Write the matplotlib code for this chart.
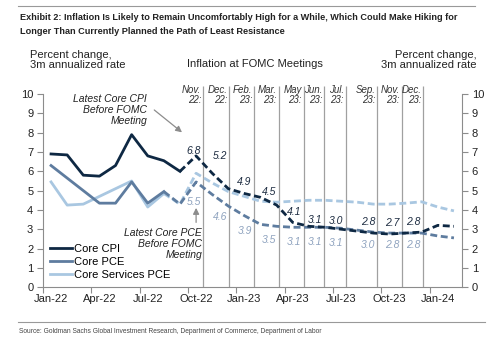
import numpy as np
import matplotlib
matplotlib.use("Agg")
import matplotlib.pyplot as plt
from matplotlib.lines import Line2D

plt.rcParams['font.family'] = ['Liberation Sans', 'DejaVu Sans']

# months counted from Jan-22 (0) to Feb-24 (25)
tick_labels = ["Jan-22", "Apr-22", "Jul-22", "Oct-22", "Jan-23",
               "Apr-23", "Jul-23", "Oct-23", "Jan-24"]

# realised data (solid)
cpi_solid = [6.9, 6.85, 5.8, 5.75, 6.3, 7.9, 6.8, 6.55, 6.0]
pce_solid = [6.3, 5.65, 5.0, 4.35, 4.35, 5.45, 4.35, 4.95]
svc_solid = [5.45, 4.25, 4.3, 4.7, 5.1, 5.5, 4.15, 4.85]

# latest reading before each meeting (dashed)
cpi_dash = [6.0, 6.8, 5.9, 5.1, 4.85, 4.65, 4.25, 3.35, 3.15, 3.1, 3.0,
            2.9, 2.8, 2.75, 2.8, 2.85, 3.2, 3.15]
pce_dash = [4.95, 4.3, 5.45, 4.8, 4.2, 3.7, 3.25, 3.15, 3.1, 3.1, 3.1,
            3.05, 2.95, 2.85, 2.8, 2.8, 2.8, 2.65, 2.55]
svc_dash = [4.85, 4.3, 5.9, 5.4, 4.95, 4.7, 4.45, 4.4, 4.45, 4.5, 4.5,
            4.45, 4.4, 4.3, 4.3, 4.35, 4.42, 4.15, 3.95]

# FOMC meetings (position in months) and readings shown
meetings = [9.44, 11.06, 12.6, 14.13, 15.68, 16.96, 18.29, 20.25, 21.77, 23.1]
meeting_labels = ["Nov.\n22:", "Dec.\n22:", "Feb.\n23:", "Mar.\n23:", "May\n23:",
                  "Jun.\n23:", "Jul.\n23:", "Sep.\n23:", "Nov.\n23:", "Dec.\n23:"]
cpi_at_meeting = ["6.8", "5.2", "4.9", "4.5", "4.1", "3.1", "3.0", "2.8", "2.7", "2.8"]
pce_at_meeting = ["5.5", "4.6", "3.9", "3.5", "3.1", "3.1", "3.1", "3.0", "2.8", "2.8"]
cpi_label_y = [7.06, 6.8, 5.46, 4.94, 3.9, 3.5, 3.45, 3.37, 3.32, 3.37]
pce_label_y = [4.42, 3.64, 2.92, 2.44, 2.35, 2.35, 2.3, 2.18, 2.18, 2.18]

c_cpi = "#0e2843"
c_pce = "#5e7c9f"
c_svc = "#a9c7e1"
c_pce_lab = "#8fa3bf"
grey = "#8c8c8c"

fig = plt.figure(figsize=(5, 3.43), dpi=100)
ax = fig.add_axes([0.086, 0.163, 0.838, 0.585])

ax.vlines(meetings, 0, 10.4, color="#a0a0a0", lw=0.9, zorder=1)

x_cs = np.arange(len(cpi_solid))
x_ps = np.arange(len(pce_solid))
x_cd = np.arange(len(cpi_dash)) + 8
x_pd = np.arange(len(pce_dash)) + 7

ax.plot(x_ps, svc_solid, color=c_svc, lw=2, label="Core Services PCE", zorder=3)
ax.plot(x_ps, pce_solid, color=c_pce, lw=2, label="Core PCE", zorder=4)
ax.plot(x_cs, cpi_solid, color=c_cpi, lw=2, label="Core CPI", zorder=5)
ax.plot(x_pd, svc_dash, color=c_svc, lw=2, dashes=(2.5, 1.3), zorder=3)
ax.plot(x_pd, pce_dash, color=c_pce, lw=2, dashes=(2.5, 1.3), zorder=4)
ax.plot(x_cd, cpi_dash, color=c_cpi, lw=2, dashes=(2.5, 1.3), zorder=5)

for xm, lab, cv, cy, pv, py in zip(meetings, meeting_labels, cpi_at_meeting,
                                   cpi_label_y, pce_at_meeting, pce_label_y):
    ax.text(xm - 0.12, 10.5, lab, ha="right", va="top", multialignment="right",
            fontsize=7, style="italic", color="#333333", linespacing=1.05)
    ax.text(xm - 0.15, cy, cv, ha="right", va="center", fontsize=7.5,
            style="italic", color="#1c2b40")
    ax.text(xm - 0.15, py, pv, ha="right", va="center", fontsize=7.5,
            style="italic", color=c_pce_lab)

ax.text(5.96, 9.17, "Latest Core CPI\nBefore FOMC\nMeeting", ha="right",
        va="center", multialignment="right", fontsize=7.5, style="italic",
        color="#222222", linespacing=1.1)
ax.annotate("", xy=(8.26, 7.93), xytext=(6.27, 9.27),
            arrowprops=dict(arrowstyle="-|>", color=grey, lw=0.9,
                            mutation_scale=9))
ax.text(9.38, 2.23, "Latest Core PCE\nBefore FOMC\nMeeting", ha="right",
        va="center", multialignment="right", fontsize=7.5, style="italic",
        color="#222222", linespacing=1.1)
ax.annotate("", xy=(9.0, 4.25), xytext=(9.0, 3.21),
            arrowprops=dict(arrowstyle="-|>", color=grey, lw=0.9,
                            mutation_scale=9))

ax.set_xlim(-0.5, 25.5)
ax.set_ylim(0, 10.4)
ax.set_yticks(range(0, 11))
ax.set_xticks(np.arange(-0.5, 24, 3))
ax.set_xticklabels([])
ax.set_xticks(np.arange(0, 25, 3), minor=True)
ax.set_xticklabels(tick_labels, minor=True)
ax.tick_params(axis="x", which="major", length=4, color=grey, direction="out")
ax.tick_params(axis="x", which="minor", length=0, labelsize=8, pad=5,
               labelcolor="#222222")
ax.tick_params(axis="y", left=True, right=True, labelleft=True, labelright=True,
               length=4, color=grey, labelsize=8, labelcolor="#222222", pad=3)
for s in ["left", "right"]:
    ax.spines[s].set_bounds(0, 10)
    ax.spines[s].set_color(grey)
ax.spines["bottom"].set_color(grey)
ax.spines["top"].set_visible(False)

h, l = ax.get_legend_handles_labels()
ax.legend(h[::-1], l[::-1], loc="lower left", bbox_to_anchor=(0.005, 0.015),
          frameon=False, fontsize=8, handlelength=2.0, handletextpad=0.2,
          labelspacing=0.25, borderaxespad=0.0)

fig.text(0.06, 0.825, "Percent change,\n3m annualized rate", ha="left",
         va="center", fontsize=8, color="#222222", linespacing=1.1)
fig.text(0.953, 0.825, "Percent change,\n3m annualized rate", ha="right",
         va="center", fontsize=8, color="#222222", linespacing=1.1,
         multialignment="right")
fig.text(0.51, 0.8125, "Inflation at FOMC Meetings", ha="center", va="center",
         fontsize=8, color="#222222")

fig.text(0.04, 1 - 18 / 343, "Exhibit 2: Inflation Is Likely to Remain Uncomfortably "
         "High for a While, Which Could Make Hiking for", ha="left", va="center",
         fontsize=6.6, fontweight="bold", color="#222222")
fig.text(0.04, 1 - 32 / 343, "Longer Than Currently Planned the Path of Least "
         "Resistance", ha="left", va="center", fontsize=6.6, fontweight="bold",
         color="#222222")
fig.add_artist(Line2D([0.036, 0.95], [1 - 6 / 343] * 2, color="#999999", lw=0.8))
fig.add_artist(Line2D([0.036, 0.97], [1 - 322 / 343] * 2, color="#999999", lw=0.8))
fig.text(0.038, 1 - 331.7 / 343, "Source: Goldman Sachs Global Investment Research, "
         "Department of Commerce, Department of Labor", ha="left", va="center",
         fontsize=4.8, color="#444444")

fig.savefig("out.png", dpi=100)
